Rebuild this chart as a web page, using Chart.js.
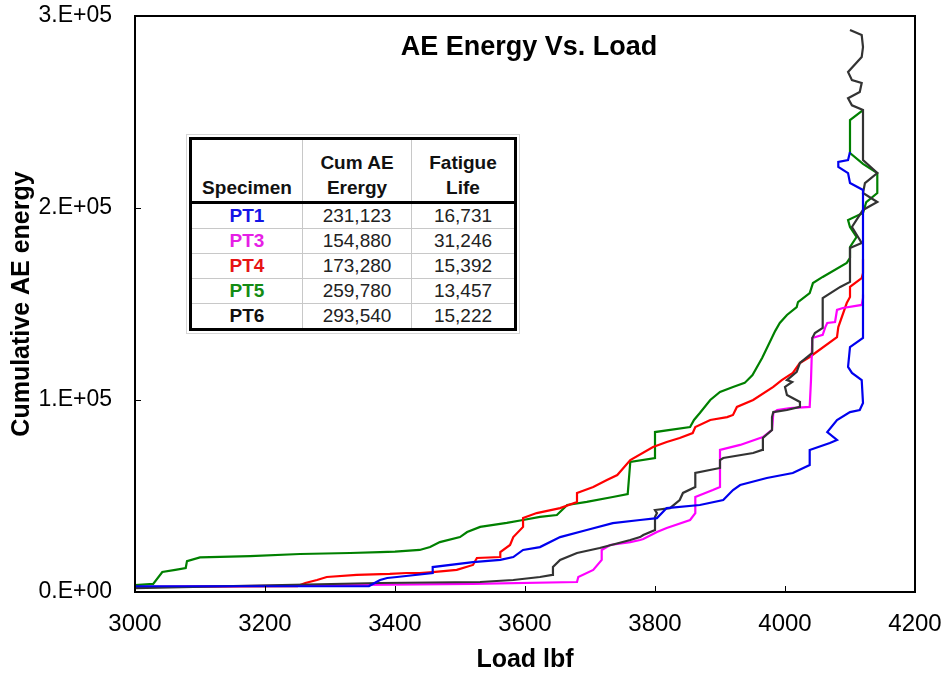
<!DOCTYPE html>
<html>
<head>
<meta charset="utf-8">
<title>AE Energy Vs. Load</title>
<script src="https://cdn.jsdelivr.net/npm/chart.js@4.4.0/dist/chart.umd.min.js"></script>
<style>
  html, body { margin: 0; padding: 0; background: #fff; }
  #wrap { position: relative; width: 946px; height: 679px; }
  #specTable {
    position: absolute; left: 189px; top: 137px;
    border-collapse: collapse; border: 3px solid #000; background: #fff;
    outline: 1px solid #d6d6d6; outline-offset: 2px;
    font-family: "Liberation Sans", Arial, sans-serif; color: #222;
  }
  #specTable th, #specTable td { border: 1px solid #c8c8c8; text-align: center; padding: 0; }
  #specTable th {
    height: 60px; vertical-align: bottom; font-size: 19px; line-height: 25px;
    border-bottom: 3px solid #000; color: #111; padding-bottom: 1px;
  }
  #specTable td { height: 24px; font-size: 19px; line-height: 24px; }
  #specTable td.spec { font-weight: bold; }
</style>
</head>
<body>
<div id="wrap">
  <canvas id="aeChart" width="946" height="679"></canvas>
  <table id="specTable">
    <thead>
      <tr>
        <th style="width:110px">Specimen</th>
        <th style="width:108px">Cum AE<br>Erergy</th>
        <th style="width:102px">Fatigue<br>Life</th>
      </tr>
    </thead>
    <tbody id="specBody"></tbody>
  </table>
</div>

<script>
// ---- data ----
const xTicks = [3000, 3200, 3400, 3600, 3800, 4000, 4200];
const yTicks = [0, 100000, 200000, 300000];

// PT1 (blue)
const pt1Load = [3000, 3360, 3377, 3388, 3403, 3458, 3458, 3520, 3562, 3582, 3597, 3623, 3654, 3695, 3735, 3777, 3803, 3818, 3869, 3905, 3920, 3931, 3972, 4012, 4038, 4038, 4069, 4080, 4065, 4080, 4100, 4115, 4120, 4118, 4103, 4097, 4100, 4120, 4120, 4100, 4097, 4082, 4082, 4097, 4100];
const pt1Energy = [3000, 3100, 6250, 7300, 7800, 9900, 13000, 15600, 16700, 18200, 21900, 23400, 28600, 32300, 35900, 37500, 38500, 43700, 45300, 47900, 53100, 55700, 59400, 62000, 66100, 74000, 77600, 79200, 83300, 89600, 93700, 94800, 98400, 110400, 114100, 117200, 127600, 132300, 209400, 213000, 218200, 221400, 224000, 225000, 229200];

// PT3 (magenta)
const pt3Load = [3000, 3520, 3680, 3682, 3705, 3718, 3718, 3731, 3762, 3777, 3782, 3803, 3818, 3854, 3862, 3862, 3889, 3900, 3900, 3931, 3966, 3980, 3982, 3988, 4008, 4038, 4040, 4042, 4058, 4062, 4065, 4077, 4080, 4089, 4118, 4120, 4120];
const pt3Energy = [2600, 4200, 5200, 7800, 11500, 16700, 21900, 24500, 26000, 27100, 27600, 31200, 33300, 37500, 41100, 49500, 53100, 54700, 74000, 76600, 80700, 84400, 93200, 94800, 95800, 96400, 110400, 132300, 133900, 138000, 140100, 140600, 146900, 147900, 149500, 153100, 154900];

// PT4 (red)
const pt4Load = [3000, 3250, 3262, 3280, 3295, 3341, 3392, 3418, 3438, 3458, 3495, 3520, 3526, 3562, 3562, 3577, 3582, 3597, 3597, 3618, 3654, 3680, 3680, 3705, 3726, 3742, 3762, 3797, 3818, 3838, 3858, 3862, 3885, 3911, 3920, 3926, 3951, 3982, 3995, 4012, 4023, 4038, 4080, 4082, 4095, 4100, 4100, 4118, 4120, 4120];
const pt4Energy = [2600, 3100, 4700, 6250, 7800, 8900, 9400, 9900, 9900, 10400, 11500, 14100, 17700, 18200, 20800, 24500, 28600, 33900, 38500, 41100, 43700, 46900, 51600, 54700, 58300, 60900, 68700, 75500, 78100, 80200, 82800, 85900, 89600, 91100, 92200, 96400, 100000, 106800, 110400, 114100, 119300, 122400, 132800, 138000, 150500, 153600, 158900, 163500, 166100, 173300];

// PT5 (green)
const pt5Load = [3000, 3028, 3042, 3062, 3078, 3080, 3100, 3177, 3254, 3331, 3377, 3400, 3438, 3454, 3469, 3500, 3511, 3531, 3572, 3597, 3623, 3649, 3657, 3665, 3695, 3735, 3758, 3762, 3800, 3800, 3854, 3860, 3869, 3885, 3900, 3920, 3938, 3950, 3965, 3985, 3992, 4003, 4018, 4020, 4038, 4043, 4058, 4095, 4100, 4100, 4110, 4100, 4097, 4120, 4125, 4142, 4142, 4120, 4100, 4100, 4120];
const pt5Energy = [3600, 4200, 10400, 11500, 12500, 16100, 18000, 18700, 19800, 20300, 20800, 21000, 21900, 23400, 26000, 28600, 31200, 33900, 36000, 37500, 39100, 40100, 42700, 45300, 46900, 49500, 51000, 67700, 69800, 83300, 85900, 89600, 93200, 100000, 104200, 106800, 108900, 113000, 122000, 136000, 140100, 144300, 148400, 151000, 155700, 160900, 164100, 171400, 174000, 179700, 184900, 190100, 193700, 197400, 203100, 207800, 218200, 223000, 228600, 245800, 251000];

// PT6 (dark grey)
const pt6Load = [3000, 3377, 3531, 3582, 3623, 3642, 3643, 3654, 3680, 3715, 3762, 3777, 3782, 3800, 3800, 3803, 3800, 3823, 3838, 3843, 3862, 3862, 3900, 3900, 3905, 3951, 3965, 3966, 3980, 3980, 3982, 4003, 4023, 4023, 4003, 4000, 4011, 4003, 4018, 4023, 4042, 4042, 4046, 4058, 4058, 4085, 4100, 4100, 4118, 4103, 4120, 4142, 4120, 4123, 4142, 4120, 4120, 4103, 4097, 4115, 4118, 4103, 4097, 4118, 4120, 4118, 4100];
const pt6Energy = [2000, 4700, 5200, 6250, 7800, 8900, 13000, 16700, 20300, 22900, 27100, 28600, 29700, 32300, 39100, 41100, 42700, 43700, 47900, 51600, 54700, 62000, 64600, 68700, 69800, 72400, 74000, 80200, 84400, 91100, 93700, 94800, 96400, 99000, 102600, 106800, 109400, 110400, 114600, 119300, 124500, 132300, 134900, 137500, 153100, 158900, 161500, 179200, 181800, 190100, 199000, 203100, 207800, 213000, 218200, 225000, 251000, 253500, 257200, 260400, 265100, 266600, 270800, 278600, 283800, 290100, 292700];

// inset table
const tableSpecimens = ["PT1", "PT3", "PT4", "PT5", "PT6"];
const tableEnergy = ["231,123", "154,880", "173,280", "259,780", "293,540"];
const tableLife = ["16,731", "31,246", "15,392", "13,457", "15,222"];
const tableColors = ["#1414e6", "#e61ee6", "#e61414", "#148c14", "#111111"];

const FONT = '"Liberation Sans", Arial, sans-serif';

function toPoints(xs, ys) {
  return xs.map((x, i) => ({ x: x, y: ys[i] }));
}

function fillTable() {
  const body = document.getElementById("specBody");
  tableSpecimens.forEach((name, i) => {
    const tr = document.createElement("tr");
    tr.innerHTML = `<td class="spec" style="color:${tableColors[i]}">${name}</td>` +
                   `<td>${tableEnergy[i]}</td><td>${tableLife[i]}</td>`;
    body.appendChild(tr);
  });
}

// box round the plot, inside tick marks and the inner title
const framePlugin = {
  id: "frame",
  afterDraw(chart) {
    const { ctx, chartArea: a, scales } = chart;
    ctx.save();
    ctx.strokeStyle = "#000";
    ctx.lineWidth = 2;
    ctx.strokeRect(a.left, a.top, a.right - a.left, a.bottom - a.top);

    ctx.lineWidth = 1;
    ctx.beginPath();
    xTicks.forEach(v => {
      const px = Math.round(scales.x.getPixelForValue(v)) + 0.5;
      ctx.moveTo(px, a.bottom);
      ctx.lineTo(px, a.bottom - 6);
    });
    yTicks.forEach(v => {
      const py = Math.round(scales.y.getPixelForValue(v)) + 0.5;
      ctx.moveTo(a.left, py);
      ctx.lineTo(a.left + 6, py);
    });
    ctx.stroke();

    ctx.fillStyle = "#000";
    ctx.font = `bold 27px ${FONT}`;
    ctx.textAlign = "center";
    ctx.textBaseline = "alphabetic";
    ctx.fillText("AE Energy Vs. Load", 529, 55);
    ctx.restore();
  }
};

function series(label, xs, ys, color) {
  return {
    label: label,
    data: toPoints(xs, ys),
    borderColor: color,
    backgroundColor: color,
    borderWidth: 2.2,
    showLine: true,
    pointRadius: 0,
    tension: 0,
  };
}

// tick space is made by invisible tick lines so that the label padding
// does not push the plot area in from the top and right
const hiddenTicks = len => ({
  display: true,
  drawOnChartArea: false,
  drawTicks: true,
  tickLength: len,
  tickColor: "rgba(0,0,0,0)",
});

function renderChart() {
  const ctx = document.getElementById("aeChart");
  new Chart(ctx, {
    type: "scatter",
    data: {
      datasets: [
        series("PT1", pt1Load, pt1Energy, "#0000ee"),
        series("PT6", pt6Load, pt6Energy, "#333333"),
        series("PT3", pt3Load, pt3Energy, "#ff00ff"),
        series("PT4", pt4Load, pt4Energy, "#ff0000"),
        series("PT5", pt5Load, pt5Energy, "#008000"),
      ],
    },
    options: {
      responsive: false,
      animation: false,
      layout: { padding: { top: 16, right: 31, left: 0, bottom: 0 } },
      plugins: {
        legend: { display: false },
        tooltip: { enabled: false },
      },
      scales: {
        x: {
          type: "linear",
          min: 3000,
          max: 4200,
          afterFit: s => { s.height = 87; },
          afterBuildTicks: s => { s.ticks = xTicks.map(v => ({ value: v })); },
          grid: hiddenTicks(18),
          border: { display: false },
          ticks: {
            color: "#000",
            font: { family: FONT, size: 24 },
            padding: 0,
            maxRotation: 0,
            callback: v => String(v),
          },
          title: { display: true, text: "Load lbf", color: "#000", font: { family: FONT, size: 25, weight: "bold" }, padding: { top: 0, bottom: 4 } },
        },
        y: {
          min: 0,
          max: 300000,
          afterFit: s => { s.width = 135; },
          afterBuildTicks: s => { s.ticks = yTicks.map(v => ({ value: v })); },
          grid: hiddenTicks(23),
          border: { display: false },
          ticks: {
            color: "#000",
            font: { family: FONT, size: 23 },
            padding: 0,
            callback: v => v === 0 ? "0.E+00" : `${v / 100000}.E+05`,
          },
          title: { display: true, text: "Cumulative AE energy", color: "#000", font: { family: FONT, size: 25, weight: "bold" }, padding: { top: 7, bottom: 0 } },
        },
      },
    },
    plugins: [framePlugin],
  });
}

window.addEventListener("DOMContentLoaded", () => {
  fillTable();
  renderChart();
});
</script>
</body>
</html>
